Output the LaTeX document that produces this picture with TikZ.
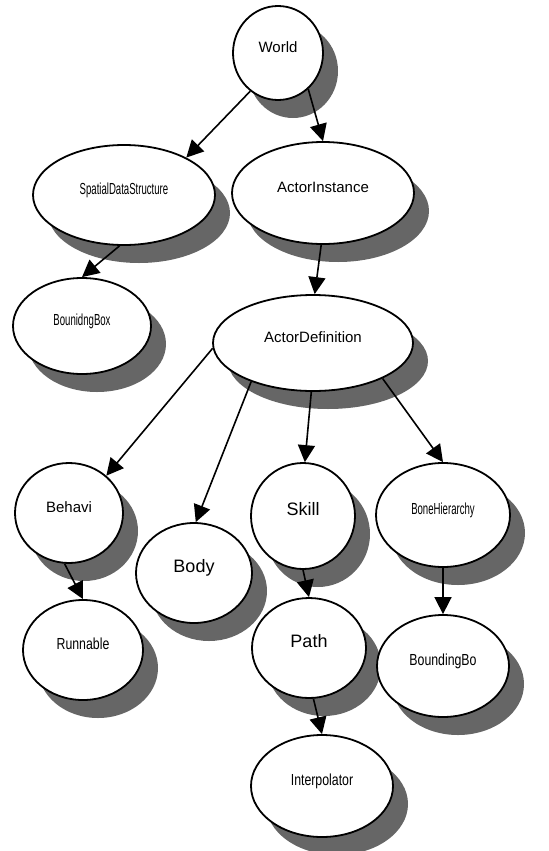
\documentclass[tikz,border=0pt]{standalone}
\usepackage{fontspec}
\setmainfont{Liberation Sans}
\newfontfamily\narrowsf[FakeStretch=0.6]{Liberation Sans}
\newfontfamily\semisf[FakeStretch=0.77]{Liberation Sans}
\usetikzlibrary{shapes.geometric,shadows,arrows.meta}
\begin{document}
\begin{tikzpicture}[x=0.5pt,y=-0.5pt,
    obj/.style={ellipse,draw,line width=0.9pt,fill=white,inner sep=0pt,
      text height=5pt,text depth=5.5pt,font=\fontsize{7.5}{9}\selectfont,
      drop shadow={shadow xshift=7.5pt,shadow yshift=-9pt,fill=black!60,opacity=1}},
    narrow/.style={font=\fontsize{8}{9}\narrowsf},
    semi/.style={font=\fontsize{8}{9}\semisf},
    big/.style={font=\fontsize{9}{10}\selectfont},
    edge/.style={line width=0.8pt,-{Triangle[length=8.5pt,width=8.5pt]}}]
    \useasboundingbox (0,0) rectangle (548,851);
    \node[obj,minimum width=45pt,minimum height=47pt] (world) at (278,53) {World};
    \node[obj,narrow,minimum width=91pt,minimum height=50pt] (spatial) at (124,195) {SpatialDataStructure};
    \node[obj,minimum width=91pt,minimum height=51pt] (instance) at (323,193) {ActorInstance};
    \node[obj,narrow,minimum width=69pt,minimum height=48pt] (bbox) at (82,326) {BounidngBox};
    \node[obj,minimum width=100pt,minimum height=48pt] (definition) at (313,343) {ActorDefinition};
    \node[obj,minimum width=54pt,minimum height=50pt] (behavi) at (69,513) {Behavi};
    \node[obj,big,minimum width=58pt,minimum height=50pt] (body) at (194,573) {Body};
    \node[obj,big,minimum width=52pt,minimum height=53pt] (skill) at (303,516) {Skill};
    \node[obj,narrow,minimum width=67pt,minimum height=52pt] (bone) at (443,515) {BoneHierarchy};
    \node[obj,semi,minimum width=60pt,minimum height=50pt] (runnable) at (83,650) {Runnable};
    \node[obj,big,minimum width=57pt,minimum height=50pt] (pathobj) at (309,648) {Path};
    \node[obj,semi,minimum width=66pt,minimum height=51pt] (boundbo) at (443,666) {BoundingBo};
    \node[obj,semi,minimum width=71pt,minimum height=51pt] (interp) at (322,786) {Interpolator};
    \foreach \a/\b in {world.234/spatial.31, world.310/instance.north, spatial.265/bbox.north,
        instance.268/definition.88, definition.183/behavi.45, definition.212/body.88,
        definition.268/skill.88, definition.333/bone.north, behavi.265/runnable.north,
        skill.south/pathobj.north, bone.south/boundbo.north, pathobj.275/interp.north}
      { \draw[edge] (\a) -- (\b); }
  \end{tikzpicture}
\end{document}
